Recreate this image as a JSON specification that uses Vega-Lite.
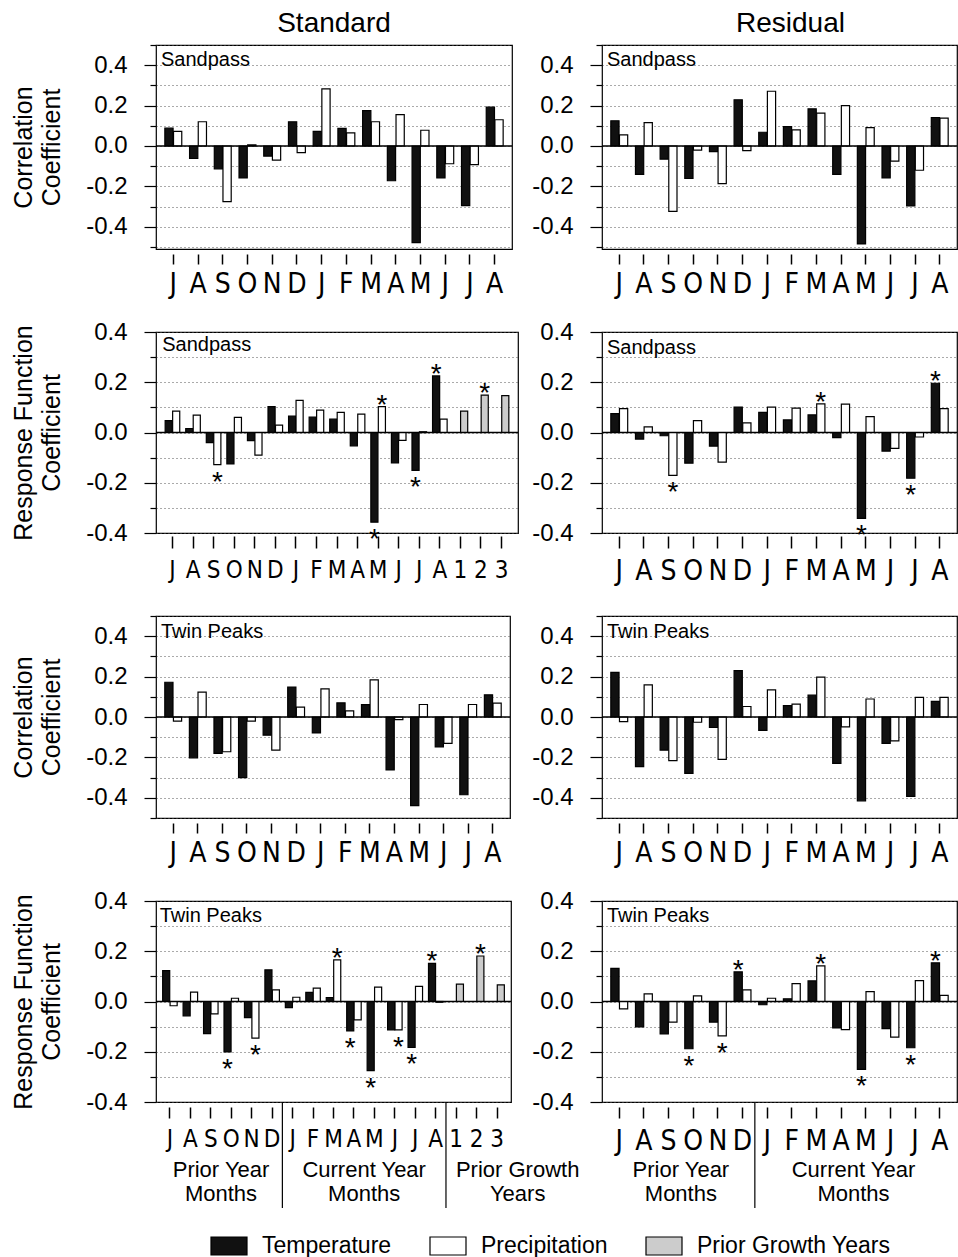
{
"$schema": "https://vega.github.io/schema/vega-lite/v6.json",
"padding": {"left": 11, "top": 9, "right": 0, "bottom": 0},
"bounds": "flush",
"columns": 2,
"spacing": {"row": 83, "column": 84},
"resolve": {"scale": {"x": "independent", "y": "independent", "xOffset": "independent", "color": "independent"}},
"config": {
  "font": "Liberation Sans",
  "view": {"stroke": "black", "strokeWidth": 1.2},
  "axis": {"labelColor": "black", "titleColor": "black", "tickColor": "black"},
  "axisY": {"domain": false, "grid": true, "gridDash": [1, 3], "gridColor": "#555555", "gridWidth": 1, "labelFontSize": 24, "labelPadding": 17, "labelOverlap": false, "tickCount": 30, "tickWidth": 1.2, "titleFontSize": 25, "titleFontWeight": "normal", "titleLineHeight": 28, "titlePadding": 21},
  "axisX": {"domain": false, "grid": false, "labelAngle": 0, "tickSize": 10, "tickWidth": 1.5, "offset": 5, "labelPadding": 6, "labelOverlap": false, "labelFontSize": 28, "labelFont": "Liberation Sans Narrow, DejaVu Sans Condensed, Liberation Sans", "title": null},
  "text": {"color": "black"}
},
"datasets": {
"r1s": [
{"month":"Jul.p","series":"Temperature","coef":0.088},{"month":"Jul.p","series":"Precipitation","coef":0.072},
{"month":"Aug.p","series":"Temperature","coef":-0.062},{"month":"Aug.p","series":"Precipitation","coef":0.12},
{"month":"Sep.p","series":"Temperature","coef":-0.113},{"month":"Sep.p","series":"Precipitation","coef":-0.275},
{"month":"Oct.p","series":"Temperature","coef":-0.158},{"month":"Oct.p","series":"Precipitation","coef":0.006},
{"month":"Nov.p","series":"Temperature","coef":-0.05},{"month":"Nov.p","series":"Precipitation","coef":-0.07},
{"month":"Dec.p","series":"Temperature","coef":0.12},{"month":"Dec.p","series":"Precipitation","coef":-0.033},
{"month":"Jan","series":"Temperature","coef":0.072},{"month":"Jan","series":"Precipitation","coef":0.283},
{"month":"Feb","series":"Temperature","coef":0.087},{"month":"Feb","series":"Precipitation","coef":0.065},
{"month":"Mar","series":"Temperature","coef":0.175},{"month":"Mar","series":"Precipitation","coef":0.12},
{"month":"Apr","series":"Temperature","coef":-0.172},{"month":"Apr","series":"Precipitation","coef":0.155},
{"month":"May","series":"Temperature","coef":-0.478},{"month":"May","series":"Precipitation","coef":0.078},
{"month":"Jun","series":"Temperature","coef":-0.158},{"month":"Jun","series":"Precipitation","coef":-0.088},
{"month":"Jul","series":"Temperature","coef":-0.295},{"month":"Jul","series":"Precipitation","coef":-0.092},
{"month":"Aug","series":"Temperature","coef":0.192},{"month":"Aug","series":"Precipitation","coef":0.13}
],
"r1r": [
{"month":"Jul.p","series":"Temperature","coef":0.125},{"month":"Jul.p","series":"Precipitation","coef":0.055},
{"month":"Aug.p","series":"Temperature","coef":-0.141},{"month":"Aug.p","series":"Precipitation","coef":0.116},
{"month":"Sep.p","series":"Temperature","coef":-0.065},{"month":"Sep.p","series":"Precipitation","coef":-0.324},
{"month":"Oct.p","series":"Temperature","coef":-0.161},{"month":"Oct.p","series":"Precipitation","coef":-0.02},
{"month":"Nov.p","series":"Temperature","coef":-0.028},{"month":"Nov.p","series":"Precipitation","coef":-0.186},
{"month":"Dec.p","series":"Temperature","coef":0.229},{"month":"Dec.p","series":"Precipitation","coef":-0.023},
{"month":"Jan","series":"Temperature","coef":0.068},{"month":"Jan","series":"Precipitation","coef":0.271},
{"month":"Feb","series":"Temperature","coef":0.096},{"month":"Feb","series":"Precipitation","coef":0.08},
{"month":"Mar","series":"Temperature","coef":0.184},{"month":"Mar","series":"Precipitation","coef":0.163},
{"month":"Apr","series":"Temperature","coef":-0.141},{"month":"Apr","series":"Precipitation","coef":0.2},
{"month":"May","series":"Temperature","coef":-0.485},{"month":"May","series":"Precipitation","coef":0.091},
{"month":"Jun","series":"Temperature","coef":-0.158},{"month":"Jun","series":"Precipitation","coef":-0.075},
{"month":"Jul","series":"Temperature","coef":-0.297},{"month":"Jul","series":"Precipitation","coef":-0.12},
{"month":"Aug","series":"Temperature","coef":0.141},{"month":"Aug","series":"Precipitation","coef":0.138}
],
"r2s": [
{"month":"Jul.p","series":"Temperature","coef":0.047},{"month":"Jul.p","series":"Precipitation","coef":0.085},
{"month":"Aug.p","series":"Temperature","coef":0.016},{"month":"Aug.p","series":"Precipitation","coef":0.069},
{"month":"Sep.p","series":"Temperature","coef":-0.04},{"month":"Sep.p","series":"Precipitation","coef":-0.128,"sig":true},
{"month":"Oct.p","series":"Temperature","coef":-0.125},{"month":"Oct.p","series":"Precipitation","coef":0.06},
{"month":"Nov.p","series":"Temperature","coef":-0.032},{"month":"Nov.p","series":"Precipitation","coef":-0.09},
{"month":"Dec.p","series":"Temperature","coef":0.103},{"month":"Dec.p","series":"Precipitation","coef":0.029},
{"month":"Jan","series":"Temperature","coef":0.065},{"month":"Jan","series":"Precipitation","coef":0.128},
{"month":"Feb","series":"Temperature","coef":0.061},{"month":"Feb","series":"Precipitation","coef":0.089},
{"month":"Mar","series":"Temperature","coef":0.053},{"month":"Mar","series":"Precipitation","coef":0.08},
{"month":"Apr","series":"Temperature","coef":-0.053},{"month":"Apr","series":"Precipitation","coef":0.073},
{"month":"May","series":"Temperature","coef":-0.357,"sig":true},{"month":"May","series":"Precipitation","coef":0.103,"sig":true},
{"month":"Jun","series":"Temperature","coef":-0.121},{"month":"Jun","series":"Precipitation","coef":-0.031},
{"month":"Jul","series":"Temperature","coef":-0.151,"sig":true},{"month":"Jul","series":"Precipitation","coef":0.003},
{"month":"Aug","series":"Temperature","coef":0.225,"sig":true},{"month":"Aug","series":"Precipitation","coef":0.053},
{"month":"Yr1","series":"Prior Growth Years","coef":0.085},
{"month":"Yr2","series":"Prior Growth Years","coef":0.149,"sig":true},
{"month":"Yr3","series":"Prior Growth Years","coef":0.147}
],
"r2r": [
{"month":"Jul.p","series":"Temperature","coef":0.075},{"month":"Jul.p","series":"Precipitation","coef":0.095},
{"month":"Aug.p","series":"Temperature","coef":-0.026},{"month":"Aug.p","series":"Precipitation","coef":0.022},
{"month":"Sep.p","series":"Temperature","coef":-0.013},{"month":"Sep.p","series":"Precipitation","coef":-0.171,"sig":true},
{"month":"Oct.p","series":"Temperature","coef":-0.122},{"month":"Oct.p","series":"Precipitation","coef":0.047},
{"month":"Nov.p","series":"Temperature","coef":-0.054},{"month":"Nov.p","series":"Precipitation","coef":-0.118},
{"month":"Dec.p","series":"Temperature","coef":0.101},{"month":"Dec.p","series":"Precipitation","coef":0.038},
{"month":"Jan","series":"Temperature","coef":0.08},{"month":"Jan","series":"Precipitation","coef":0.101},
{"month":"Feb","series":"Temperature","coef":0.05},{"month":"Feb","series":"Precipitation","coef":0.097},
{"month":"Mar","series":"Temperature","coef":0.07},{"month":"Mar","series":"Precipitation","coef":0.114,"sig":true},
{"month":"Apr","series":"Temperature","coef":-0.02},{"month":"Apr","series":"Precipitation","coef":0.113},
{"month":"May","series":"Temperature","coef":-0.342,"sig":true},{"month":"May","series":"Precipitation","coef":0.063},
{"month":"Jun","series":"Temperature","coef":-0.074},{"month":"Jun","series":"Precipitation","coef":-0.063},
{"month":"Jul","series":"Temperature","coef":-0.182,"sig":true},{"month":"Jul","series":"Precipitation","coef":-0.018},
{"month":"Aug","series":"Temperature","coef":0.196,"sig":true},{"month":"Aug","series":"Precipitation","coef":0.095}
],
"r3s": [
{"month":"Jul.p","series":"Temperature","coef":0.172},{"month":"Jul.p","series":"Precipitation","coef":-0.02},
{"month":"Aug.p","series":"Temperature","coef":-0.202},{"month":"Aug.p","series":"Precipitation","coef":0.123},
{"month":"Sep.p","series":"Temperature","coef":-0.18},{"month":"Sep.p","series":"Precipitation","coef":-0.172},
{"month":"Oct.p","series":"Temperature","coef":-0.3},{"month":"Oct.p","series":"Precipitation","coef":-0.02},
{"month":"Nov.p","series":"Temperature","coef":-0.09},{"month":"Nov.p","series":"Precipitation","coef":-0.164},
{"month":"Dec.p","series":"Temperature","coef":0.148},{"month":"Dec.p","series":"Precipitation","coef":0.049},
{"month":"Jan","series":"Temperature","coef":-0.079},{"month":"Jan","series":"Precipitation","coef":0.139},
{"month":"Feb","series":"Temperature","coef":0.07},{"month":"Feb","series":"Precipitation","coef":0.03},
{"month":"Mar","series":"Temperature","coef":0.061},{"month":"Mar","series":"Precipitation","coef":0.184},
{"month":"Apr","series":"Temperature","coef":-0.262},{"month":"Apr","series":"Precipitation","coef":-0.013},
{"month":"May","series":"Temperature","coef":-0.439},{"month":"May","series":"Precipitation","coef":0.062},
{"month":"Jun","series":"Temperature","coef":-0.148},{"month":"Jun","series":"Precipitation","coef":-0.131},
{"month":"Jul","series":"Temperature","coef":-0.385},{"month":"Jul","series":"Precipitation","coef":0.062},
{"month":"Aug","series":"Temperature","coef":0.11},{"month":"Aug","series":"Precipitation","coef":0.069}
],
"r3r": [
{"month":"Jul.p","series":"Temperature","coef":0.221},{"month":"Jul.p","series":"Precipitation","coef":-0.023},
{"month":"Aug.p","series":"Temperature","coef":-0.246},{"month":"Aug.p","series":"Precipitation","coef":0.159},
{"month":"Sep.p","series":"Temperature","coef":-0.164},{"month":"Sep.p","series":"Precipitation","coef":-0.216},
{"month":"Oct.p","series":"Temperature","coef":-0.279},{"month":"Oct.p","series":"Precipitation","coef":-0.026},
{"month":"Nov.p","series":"Temperature","coef":-0.052},{"month":"Nov.p","series":"Precipitation","coef":-0.21},
{"month":"Dec.p","series":"Temperature","coef":0.23},{"month":"Dec.p","series":"Precipitation","coef":0.052},
{"month":"Jan","series":"Temperature","coef":-0.066},{"month":"Jan","series":"Precipitation","coef":0.134},
{"month":"Feb","series":"Temperature","coef":0.056},{"month":"Feb","series":"Precipitation","coef":0.064},
{"month":"Mar","series":"Temperature","coef":0.108},{"month":"Mar","series":"Precipitation","coef":0.197},
{"month":"Apr","series":"Temperature","coef":-0.23},{"month":"Apr","series":"Precipitation","coef":-0.049},
{"month":"May","series":"Temperature","coef":-0.415},{"month":"May","series":"Precipitation","coef":0.089},
{"month":"Jun","series":"Temperature","coef":-0.131},{"month":"Jun","series":"Precipitation","coef":-0.118},
{"month":"Jul","series":"Temperature","coef":-0.393},{"month":"Jul","series":"Precipitation","coef":0.097},
{"month":"Aug","series":"Temperature","coef":0.077},{"month":"Aug","series":"Precipitation","coef":0.097}
],
"r4s": [
{"month":"Jul.p","series":"Temperature","coef":0.123},{"month":"Jul.p","series":"Precipitation","coef":-0.017},
{"month":"Aug.p","series":"Temperature","coef":-0.057},{"month":"Aug.p","series":"Precipitation","coef":0.037},
{"month":"Sep.p","series":"Temperature","coef":-0.128},{"month":"Sep.p","series":"Precipitation","coef":-0.049},
{"month":"Oct.p","series":"Temperature","coef":-0.201,"sig":true},{"month":"Oct.p","series":"Precipitation","coef":0.013},
{"month":"Nov.p","series":"Temperature","coef":-0.064},{"month":"Nov.p","series":"Precipitation","coef":-0.146,"sig":true},
{"month":"Dec.p","series":"Temperature","coef":0.126},{"month":"Dec.p","series":"Precipitation","coef":0.046},
{"month":"Jan","series":"Temperature","coef":-0.024},{"month":"Jan","series":"Precipitation","coef":0.017},
{"month":"Feb","series":"Temperature","coef":0.036},{"month":"Feb","series":"Precipitation","coef":0.053},
{"month":"Mar","series":"Temperature","coef":0.016},{"month":"Mar","series":"Precipitation","coef":0.166,"sig":true},
{"month":"Apr","series":"Temperature","coef":-0.117,"sig":true},{"month":"Apr","series":"Precipitation","coef":-0.073},
{"month":"May","series":"Temperature","coef":-0.275,"sig":true},{"month":"May","series":"Precipitation","coef":0.057},
{"month":"Jun","series":"Temperature","coef":-0.113},{"month":"Jun","series":"Precipitation","coef":-0.113,"sig":true},
{"month":"Jul","series":"Temperature","coef":-0.183,"sig":true},{"month":"Jul","series":"Precipitation","coef":0.06},
{"month":"Aug","series":"Temperature","coef":0.152,"sig":true},{"month":"Aug","series":"Precipitation","coef":-0.003},
{"month":"Yr1","series":"Prior Growth Years","coef":0.069},
{"month":"Yr2","series":"Prior Growth Years","coef":0.181,"sig":true},
{"month":"Yr3","series":"Prior Growth Years","coef":0.066}
],
"r4r": [
{"month":"Jul.p","series":"Temperature","coef":0.132},{"month":"Jul.p","series":"Precipitation","coef":-0.029},
{"month":"Aug.p","series":"Temperature","coef":-0.101},{"month":"Aug.p","series":"Precipitation","coef":0.03},
{"month":"Sep.p","series":"Temperature","coef":-0.129},{"month":"Sep.p","series":"Precipitation","coef":-0.082},
{"month":"Oct.p","series":"Temperature","coef":-0.188,"sig":true},{"month":"Oct.p","series":"Precipitation","coef":0.022},
{"month":"Nov.p","series":"Temperature","coef":-0.082},{"month":"Nov.p","series":"Precipitation","coef":-0.137,"sig":true},
{"month":"Dec.p","series":"Temperature","coef":0.118,"sig":true},{"month":"Dec.p","series":"Precipitation","coef":0.046},
{"month":"Jan","series":"Temperature","coef":-0.013},{"month":"Jan","series":"Precipitation","coef":0.013},
{"month":"Feb","series":"Temperature","coef":0.011},{"month":"Feb","series":"Precipitation","coef":0.071},
{"month":"Mar","series":"Temperature","coef":0.082},{"month":"Mar","series":"Precipitation","coef":0.142,"sig":true},
{"month":"Apr","series":"Temperature","coef":-0.105},{"month":"Apr","series":"Precipitation","coef":-0.112},
{"month":"May","series":"Temperature","coef":-0.27,"sig":true},{"month":"May","series":"Precipitation","coef":0.039},
{"month":"Jun","series":"Temperature","coef":-0.108},{"month":"Jun","series":"Precipitation","coef":-0.142},
{"month":"Jul","series":"Temperature","coef":-0.184,"sig":true},{"month":"Jul","series":"Precipitation","coef":0.083},
{"month":"Aug","series":"Temperature","coef":0.154,"sig":true},{"month":"Aug","series":"Precipitation","coef":0.024}
]
},
"concat": [
{
"width": 356, "height": 204,
"title": {"text": "Standard", "fontSize": 28, "fontWeight": "normal", "anchor": "middle", "frame": "group", "baseline": "alphabetic", "offset": -27},
"data": {"name": "r1s"},
"transform": [{"calculate": "datum.series === 'Temperature' ? 'a' : 'b'", "as": "slot"}],
"layer": [
{"mark": {"type": "bar", "stroke": "black", "strokeWidth": 1.2},
 "encoding": {
  "x": {"field": "month", "type": "nominal", "sort": null, "scale": {"domain": ["Jul.p","Aug.p","Sep.p","Oct.p","Nov.p","Dec.p","Jan","Feb","Mar","Apr","May","Jun","Jul","Aug"], "paddingInner": 0, "paddingOuter": 0.2}, "axis": {"labelExpr": "substring(datum.value,0,2) == 'Yr' ? substring(datum.value,2,3) : substring(datum.value,0,1)"}},
  "xOffset": {"field": "slot", "type": "nominal", "scale": {"domain": ["a","b"], "paddingInner": 0.05, "paddingOuter": 0.45}},
  "y": {"field": "coef", "type": "quantitative", "scale": {"domain": [-0.51, 0.5], "nice": false, "zero": false}, "axis": {"tickCount": 30, "values": [-0.5,-0.4,-0.3,-0.2,-0.1,0,0.1,0.2,0.3,0.4,0.5], "labelExpr": "abs(round(datum.value*10)) % 2 == 0 && abs(datum.value) < 0.45 ? (datum.value < -0.001 ? '-' : '') + format(abs(datum.value), '.1f') : ''", "tickSize": {"condition": {"test": "abs(round(datum.value*10)) % 2 == 0", "value": 12}, "value": 6}, "title": ["Correlation", "Coefficient"]}},
  "color": {"field": "series", "type": "nominal", "scale": {"domain": ["Temperature","Precipitation","Prior Growth Years"], "range": ["#111111","#ffffff","#cccccc"]}, "legend": null}
 }},
{"data": {"values": [{}]}, "mark": {"type": "rule", "color": "black", "strokeWidth": 1.5}, "encoding": {"y": {"datum": 0}}},
{"data": {"values": [{"site": "Sandpass"}]}, "mark": {"type": "text", "align": "left", "baseline": "alphabetic", "dy": 21, "fontSize": 20}, "encoding": {"x": {"datum": "Jul.p", "type": "nominal", "bandPosition": 0}, "y": {"datum": 0.5}, "text": {"field": "site"}}}
]
},
{
"width": 355, "height": 204,
"title": {"text": "Residual", "fontSize": 28, "fontWeight": "normal", "anchor": "middle", "frame": "group", "baseline": "alphabetic", "offset": -27, "dx": 11},
"data": {"name": "r1r"},
"transform": [{"calculate": "datum.series === 'Temperature' ? 'a' : 'b'", "as": "slot"}],
"layer": [
{"mark": {"type": "bar", "stroke": "black", "strokeWidth": 1.2},
 "encoding": {
  "x": {"field": "month", "type": "nominal", "sort": null, "scale": {"domain": ["Jul.p","Aug.p","Sep.p","Oct.p","Nov.p","Dec.p","Jan","Feb","Mar","Apr","May","Jun","Jul","Aug"], "paddingInner": 0, "paddingOuter": 0.2}, "axis": {"labelExpr": "substring(datum.value,0,2) == 'Yr' ? substring(datum.value,2,3) : substring(datum.value,0,1)"}},
  "xOffset": {"field": "slot", "type": "nominal", "scale": {"domain": ["a","b"], "paddingInner": 0.05, "paddingOuter": 0.45}},
  "y": {"field": "coef", "type": "quantitative", "scale": {"domain": [-0.51, 0.5], "nice": false, "zero": false}, "axis": {"tickCount": 30, "values": [-0.5,-0.4,-0.3,-0.2,-0.1,0,0.1,0.2,0.3,0.4,0.5], "labelExpr": "abs(round(datum.value*10)) % 2 == 0 && abs(datum.value) < 0.45 ? (datum.value < -0.001 ? '-' : '') + format(abs(datum.value), '.1f') : ''", "tickSize": {"condition": {"test": "abs(round(datum.value*10)) % 2 == 0", "value": 12}, "value": 6}, "title": null}},
  "color": {"field": "series", "type": "nominal", "scale": {"domain": ["Temperature","Precipitation","Prior Growth Years"], "range": ["#111111","#ffffff","#cccccc"]}, "legend": null}
 }},
{"data": {"values": [{}]}, "mark": {"type": "rule", "color": "black", "strokeWidth": 1.5}, "encoding": {"y": {"datum": 0}}},
{"data": {"values": [{"site": "Sandpass"}]}, "mark": {"type": "text", "align": "left", "baseline": "alphabetic", "dy": 21, "fontSize": 20}, "encoding": {"x": {"datum": "Jul.p", "type": "nominal", "bandPosition": 0}, "y": {"datum": 0.5}, "text": {"field": "site"}}}
]
},
{
"width": 362, "height": 201,
"data": {"name": "r2s"},
"transform": [{"calculate": "datum.series === 'Temperature' ? 'a' : 'b'", "as": "slot"}],
"layer": [
{"mark": {"type": "bar", "stroke": "black", "strokeWidth": 1.2},
 "encoding": {
  "x": {"field": "month", "type": "nominal", "sort": null, "scale": {"domain": ["Jul.p","Aug.p","Sep.p","Oct.p","Nov.p","Dec.p","Jan","Feb","Mar","Apr","May","Jun","Jul","Aug","Yr1","Yr2","Yr3"], "paddingInner": 0, "paddingOuter": 0.3}, "axis": {"labelFontSize": 24, "offset": 3, "tickSize": 12, "labelPadding": 10, "labelExpr": "substring(datum.value,0,2) == 'Yr' ? substring(datum.value,2,3) : substring(datum.value,0,1)"}},
  "xOffset": {"field": "slot", "type": "nominal", "scale": {"domain": ["a","b"], "paddingInner": 0.05, "paddingOuter": 0.4}},
  "y": {"field": "coef", "type": "quantitative", "scale": {"domain": [-0.4, 0.4], "nice": false, "zero": false}, "axis": {"tickCount": 30, "values": [-0.4,-0.3,-0.2,-0.1,0,0.1,0.2,0.3,0.4], "labelExpr": "abs(round(datum.value*10)) % 2 == 0 && abs(datum.value) < 0.45 ? (datum.value < -0.001 ? '-' : '') + format(abs(datum.value), '.1f') : ''", "tickSize": {"condition": {"test": "abs(round(datum.value*10)) % 2 == 0", "value": 12}, "value": 6}, "title": ["Response Function", "Coefficient"]}},
  "color": {"field": "series", "type": "nominal", "scale": {"domain": ["Temperature","Precipitation","Prior Growth Years"], "range": ["#111111","#ffffff","#cccccc"]}, "legend": null}
 }},
{"data": {"values": [{}]}, "mark": {"type": "rule", "color": "black", "strokeWidth": 1.5}, "encoding": {"y": {"datum": 0}}},
{"transform": [{"filter": "datum.sig && datum.coef > 0"}], "mark": {"type": "text", "text": "*", "fontSize": 28, "baseline": "alphabetic", "dy": 7}, "encoding": {"x": {"field": "month", "type": "nominal"}, "xOffset": {"field": "slot", "type": "nominal"}, "y": {"field": "coef", "type": "quantitative"}}},
{"transform": [{"filter": "datum.sig && datum.coef < 0"}], "mark": {"type": "text", "text": "*", "fontSize": 28, "baseline": "alphabetic", "dy": 26}, "encoding": {"x": {"field": "month", "type": "nominal"}, "xOffset": {"field": "slot", "type": "nominal"}, "y": {"field": "coef", "type": "quantitative"}}},
{"data": {"values": [{"site": "Sandpass"}]}, "mark": {"type": "text", "align": "left", "baseline": "alphabetic", "dy": 19, "fontSize": 20}, "encoding": {"x": {"datum": "Jul.p", "type": "nominal", "bandPosition": 0}, "y": {"datum": 0.4}, "text": {"field": "site"}}}
]
},
{
"width": 355, "height": 201,
"data": {"name": "r2r"},
"transform": [{"calculate": "datum.series === 'Temperature' ? 'a' : 'b'", "as": "slot"}],
"layer": [
{"mark": {"type": "bar", "stroke": "black", "strokeWidth": 1.2},
 "encoding": {
  "x": {"field": "month", "type": "nominal", "sort": null, "scale": {"domain": ["Jul.p","Aug.p","Sep.p","Oct.p","Nov.p","Dec.p","Jan","Feb","Mar","Apr","May","Jun","Jul","Aug"], "paddingInner": 0, "paddingOuter": 0.2}, "axis": {"offset": 3, "tickSize": 12, "labelPadding": 9, "labelExpr": "substring(datum.value,0,2) == 'Yr' ? substring(datum.value,2,3) : substring(datum.value,0,1)"}},
  "xOffset": {"field": "slot", "type": "nominal", "scale": {"domain": ["a","b"], "paddingInner": 0.05, "paddingOuter": 0.45}},
  "y": {"field": "coef", "type": "quantitative", "scale": {"domain": [-0.4, 0.4], "nice": false, "zero": false}, "axis": {"tickCount": 30, "values": [-0.4,-0.3,-0.2,-0.1,0,0.1,0.2,0.3,0.4], "labelExpr": "abs(round(datum.value*10)) % 2 == 0 && abs(datum.value) < 0.45 ? (datum.value < -0.001 ? '-' : '') + format(abs(datum.value), '.1f') : ''", "tickSize": {"condition": {"test": "abs(round(datum.value*10)) % 2 == 0", "value": 12}, "value": 6}, "title": null}},
  "color": {"field": "series", "type": "nominal", "scale": {"domain": ["Temperature","Precipitation","Prior Growth Years"], "range": ["#111111","#ffffff","#cccccc"]}, "legend": null}
 }},
{"data": {"values": [{}]}, "mark": {"type": "rule", "color": "black", "strokeWidth": 1.5}, "encoding": {"y": {"datum": 0}}},
{"transform": [{"filter": "datum.sig && datum.coef > 0"}], "mark": {"type": "text", "text": "*", "fontSize": 28, "baseline": "alphabetic", "dy": 7}, "encoding": {"x": {"field": "month", "type": "nominal"}, "xOffset": {"field": "slot", "type": "nominal"}, "y": {"field": "coef", "type": "quantitative"}}},
{"transform": [{"filter": "datum.sig && datum.coef < 0"}], "mark": {"type": "text", "text": "*", "fontSize": 28, "baseline": "alphabetic", "dy": 26}, "encoding": {"x": {"field": "month", "type": "nominal"}, "xOffset": {"field": "slot", "type": "nominal"}, "y": {"field": "coef", "type": "quantitative"}}},
{"data": {"values": [{"site": "Sandpass"}]}, "mark": {"type": "text", "align": "left", "baseline": "alphabetic", "dy": 22, "fontSize": 20}, "encoding": {"x": {"datum": "Jul.p", "type": "nominal", "bandPosition": 0}, "y": {"datum": 0.4}, "text": {"field": "site"}}}
]
},
{
"width": 354, "height": 202,
"data": {"name": "r3s"},
"transform": [{"calculate": "datum.series === 'Temperature' ? 'a' : 'b'", "as": "slot"}],
"layer": [
{"mark": {"type": "bar", "stroke": "black", "strokeWidth": 1.2},
 "encoding": {
  "x": {"field": "month", "type": "nominal", "sort": null, "scale": {"domain": ["Jul.p","Aug.p","Sep.p","Oct.p","Nov.p","Dec.p","Jan","Feb","Mar","Apr","May","Jun","Jul","Aug"], "paddingInner": 0, "paddingOuter": 0.2}, "axis": {"labelExpr": "substring(datum.value,0,2) == 'Yr' ? substring(datum.value,2,3) : substring(datum.value,0,1)"}},
  "xOffset": {"field": "slot", "type": "nominal", "scale": {"domain": ["a","b"], "paddingInner": 0.05, "paddingOuter": 0.45}},
  "y": {"field": "coef", "type": "quantitative", "scale": {"domain": [-0.5, 0.5], "nice": false, "zero": false}, "axis": {"tickCount": 30, "values": [-0.5,-0.4,-0.3,-0.2,-0.1,0,0.1,0.2,0.3,0.4,0.5], "labelExpr": "abs(round(datum.value*10)) % 2 == 0 && abs(datum.value) < 0.45 ? (datum.value < -0.001 ? '-' : '') + format(abs(datum.value), '.1f') : ''", "tickSize": {"condition": {"test": "abs(round(datum.value*10)) % 2 == 0", "value": 12}, "value": 6}, "title": ["Correlation", "Coefficient"]}},
  "color": {"field": "series", "type": "nominal", "scale": {"domain": ["Temperature","Precipitation","Prior Growth Years"], "range": ["#111111","#ffffff","#cccccc"]}, "legend": null}
 }},
{"data": {"values": [{}]}, "mark": {"type": "rule", "color": "black", "strokeWidth": 1.5}, "encoding": {"y": {"datum": 0}}},
{"data": {"values": [{"site": "Twin Peaks"}]}, "mark": {"type": "text", "align": "left", "baseline": "alphabetic", "dy": 22, "fontSize": 20}, "encoding": {"x": {"datum": "Jul.p", "type": "nominal", "bandPosition": 0}, "y": {"datum": 0.5}, "text": {"field": "site"}}}
]
},
{
"width": 355, "height": 202,
"data": {"name": "r3r"},
"transform": [{"calculate": "datum.series === 'Temperature' ? 'a' : 'b'", "as": "slot"}],
"layer": [
{"mark": {"type": "bar", "stroke": "black", "strokeWidth": 1.2},
 "encoding": {
  "x": {"field": "month", "type": "nominal", "sort": null, "scale": {"domain": ["Jul.p","Aug.p","Sep.p","Oct.p","Nov.p","Dec.p","Jan","Feb","Mar","Apr","May","Jun","Jul","Aug"], "paddingInner": 0, "paddingOuter": 0.2}, "axis": {"labelExpr": "substring(datum.value,0,2) == 'Yr' ? substring(datum.value,2,3) : substring(datum.value,0,1)"}},
  "xOffset": {"field": "slot", "type": "nominal", "scale": {"domain": ["a","b"], "paddingInner": 0.05, "paddingOuter": 0.45}},
  "y": {"field": "coef", "type": "quantitative", "scale": {"domain": [-0.5, 0.5], "nice": false, "zero": false}, "axis": {"tickCount": 30, "values": [-0.5,-0.4,-0.3,-0.2,-0.1,0,0.1,0.2,0.3,0.4,0.5], "labelExpr": "abs(round(datum.value*10)) % 2 == 0 && abs(datum.value) < 0.45 ? (datum.value < -0.001 ? '-' : '') + format(abs(datum.value), '.1f') : ''", "tickSize": {"condition": {"test": "abs(round(datum.value*10)) % 2 == 0", "value": 12}, "value": 6}, "title": null}},
  "color": {"field": "series", "type": "nominal", "scale": {"domain": ["Temperature","Precipitation","Prior Growth Years"], "range": ["#111111","#ffffff","#cccccc"]}, "legend": null}
 }},
{"data": {"values": [{}]}, "mark": {"type": "rule", "color": "black", "strokeWidth": 1.5}, "encoding": {"y": {"datum": 0}}},
{"data": {"values": [{"site": "Twin Peaks"}]}, "mark": {"type": "text", "align": "left", "baseline": "alphabetic", "dy": 22, "fontSize": 20}, "encoding": {"x": {"datum": "Jul.p", "type": "nominal", "bandPosition": 0}, "y": {"datum": 0.5}, "text": {"field": "site"}}}
]
},
{
"width": 355, "height": 201,
"data": {"name": "r4s"},
"transform": [{"calculate": "datum.series === 'Temperature' ? 'a' : 'b'", "as": "slot"}],
"layer": [
{"mark": {"type": "bar", "stroke": "black", "strokeWidth": 1.2},
 "encoding": {
  "x": {"field": "month", "type": "nominal", "sort": null, "scale": {"domain": ["Jul.p","Aug.p","Sep.p","Oct.p","Nov.p","Dec.p","Jan","Feb","Mar","Apr","May","Jun","Jul","Aug","Yr1","Yr2","Yr3"], "paddingInner": 0, "paddingOuter": 0.18}, "axis": {"labelFontSize": 24, "tickSize": 11, "labelPadding": 9, "labelExpr": "substring(datum.value,0,2) == 'Yr' ? substring(datum.value,2,3) : substring(datum.value,0,1)"}},
  "xOffset": {"field": "slot", "type": "nominal", "scale": {"domain": ["a","b"], "paddingInner": 0.05, "paddingOuter": 0.4}},
  "y": {"field": "coef", "type": "quantitative", "scale": {"domain": [-0.4, 0.4], "nice": false, "zero": false}, "axis": {"tickCount": 30, "values": [-0.4,-0.3,-0.2,-0.1,0,0.1,0.2,0.3,0.4], "labelExpr": "abs(round(datum.value*10)) % 2 == 0 && abs(datum.value) < 0.45 ? (datum.value < -0.001 ? '-' : '') + format(abs(datum.value), '.1f') : ''", "tickSize": {"condition": {"test": "abs(round(datum.value*10)) % 2 == 0", "value": 12}, "value": 6}, "title": ["Response Function", "Coefficient"]}},
  "color": {"field": "series", "type": "nominal", "scale": {"domain": ["Temperature","Precipitation","Prior Growth Years"], "range": ["#111111","#ffffff","#cccccc"]}, "legend": {"orient": "none", "legendX": 54, "legendY": 326, "direction": "horizontal", "title": null, "symbolType": "M-1,-0.5H1V0.5H-1Z", "symbolSize": 1296, "symbolStrokeColor": "black", "symbolStrokeWidth": 1.2, "symbolOpacity": 1, "labelFontSize": 23, "labelOffset": 14, "labelLimit": 400, "columnPadding": 35, "padding": 0, "labelColor": "black"}}
 }},
{"data": {"values": [{}]}, "mark": {"type": "rule", "color": "black", "strokeWidth": 1.5}, "encoding": {"y": {"datum": 0}}},
{"transform": [{"filter": "datum.sig && datum.coef > 0"}], "mark": {"type": "text", "text": "*", "fontSize": 28, "baseline": "alphabetic", "dy": 7}, "encoding": {"x": {"field": "month", "type": "nominal"}, "xOffset": {"field": "slot", "type": "nominal"}, "y": {"field": "coef", "type": "quantitative"}}},
{"transform": [{"filter": "datum.sig && datum.coef < 0"}], "mark": {"type": "text", "text": "*", "fontSize": 28, "baseline": "alphabetic", "dy": 26}, "encoding": {"x": {"field": "month", "type": "nominal"}, "xOffset": {"field": "slot", "type": "nominal"}, "y": {"field": "coef", "type": "quantitative"}}},
{"data": {"values": [{"site": "Twin Peaks"}]}, "mark": {"type": "text", "align": "left", "baseline": "alphabetic", "dy": 21, "fontSize": 20}, "encoding": {"x": {"datum": "Jul.p", "type": "nominal", "bandPosition": 0}, "y": {"datum": 0.4}, "text": {"field": "site"}}},
{"data": {"values": [{"month": "Jan"}, {"month": "Yr1"}]}, "mark": {"type": "rule", "color": "black", "strokeWidth": 1.2}, "encoding": {"x": {"field": "month", "type": "nominal", "bandPosition": 0}, "y": {"datum": -0.4}, "y2": {"datum": -0.822}}},
{"data": {"values": [{"month": "Oct.p", "group": "Prior Year\nMonths"}, {"month": "May", "group": "Current Year\nMonths"}]}, "mark": {"type": "text", "align": "center", "baseline": "top", "dy": 58, "fontSize": 22, "lineBreak": "\n", "lineHeight": 24}, "encoding": {"x": {"field": "month", "type": "nominal", "bandPosition": 0}, "y": {"datum": -0.4}, "text": {"field": "group"}}},
{"data": {"values": [{"month": "Yr2", "group": "Prior Growth\nYears"}]}, "mark": {"type": "text", "align": "center", "baseline": "top", "dy": 58, "dx": 41, "fontSize": 22, "lineBreak": "\n", "lineHeight": 24}, "encoding": {"x": {"field": "month", "type": "nominal"}, "y": {"datum": -0.4}, "text": {"field": "group"}}}
]
},
{
"width": 355, "height": 201,
"data": {"name": "r4r"},
"transform": [{"calculate": "datum.series === 'Temperature' ? 'a' : 'b'", "as": "slot"}],
"layer": [
{"mark": {"type": "bar", "stroke": "black", "strokeWidth": 1.2},
 "encoding": {
  "x": {"field": "month", "type": "nominal", "sort": null, "scale": {"domain": ["Jul.p","Aug.p","Sep.p","Oct.p","Nov.p","Dec.p","Jan","Feb","Mar","Apr","May","Jun","Jul","Aug"], "paddingInner": 0, "paddingOuter": 0.2}, "axis": {"tickSize": 11, "labelPadding": 9, "labelExpr": "substring(datum.value,0,2) == 'Yr' ? substring(datum.value,2,3) : substring(datum.value,0,1)"}},
  "xOffset": {"field": "slot", "type": "nominal", "scale": {"domain": ["a","b"], "paddingInner": 0.05, "paddingOuter": 0.45}},
  "y": {"field": "coef", "type": "quantitative", "scale": {"domain": [-0.4, 0.4], "nice": false, "zero": false}, "axis": {"tickCount": 30, "values": [-0.4,-0.3,-0.2,-0.1,0,0.1,0.2,0.3,0.4], "labelExpr": "abs(round(datum.value*10)) % 2 == 0 && abs(datum.value) < 0.45 ? (datum.value < -0.001 ? '-' : '') + format(abs(datum.value), '.1f') : ''", "tickSize": {"condition": {"test": "abs(round(datum.value*10)) % 2 == 0", "value": 12}, "value": 6}, "title": null}},
  "color": {"field": "series", "type": "nominal", "scale": {"domain": ["Temperature","Precipitation","Prior Growth Years"], "range": ["#111111","#ffffff","#cccccc"]}, "legend": null}
 }},
{"data": {"values": [{}]}, "mark": {"type": "rule", "color": "black", "strokeWidth": 1.5}, "encoding": {"y": {"datum": 0}}},
{"transform": [{"filter": "datum.sig && datum.coef > 0"}], "mark": {"type": "text", "text": "*", "fontSize": 28, "baseline": "alphabetic", "dy": 7}, "encoding": {"x": {"field": "month", "type": "nominal"}, "xOffset": {"field": "slot", "type": "nominal"}, "y": {"field": "coef", "type": "quantitative"}}},
{"transform": [{"filter": "datum.sig && datum.coef < 0"}], "mark": {"type": "text", "text": "*", "fontSize": 28, "baseline": "alphabetic", "dy": 26}, "encoding": {"x": {"field": "month", "type": "nominal"}, "xOffset": {"field": "slot", "type": "nominal"}, "y": {"field": "coef", "type": "quantitative"}}},
{"data": {"values": [{"site": "Twin Peaks"}]}, "mark": {"type": "text", "align": "left", "baseline": "alphabetic", "dy": 21, "fontSize": 20}, "encoding": {"x": {"datum": "Jul.p", "type": "nominal", "bandPosition": 0}, "y": {"datum": 0.4}, "text": {"field": "site"}}},
{"data": {"values": [{"month": "Jan"}]}, "mark": {"type": "rule", "color": "black", "strokeWidth": 1.2}, "encoding": {"x": {"field": "month", "type": "nominal", "bandPosition": 0}, "y": {"datum": -0.4}, "y2": {"datum": -0.822}}},
{"data": {"values": [{"month": "Oct.p", "group": "Prior Year\nMonths"}, {"month": "May", "group": "Current Year\nMonths"}]}, "mark": {"type": "text", "align": "center", "baseline": "top", "dy": 58, "fontSize": 22, "lineBreak": "\n", "lineHeight": 24}, "encoding": {"x": {"field": "month", "type": "nominal", "bandPosition": 0}, "y": {"datum": -0.4}, "text": {"field": "group"}}}
]
}
]
}
